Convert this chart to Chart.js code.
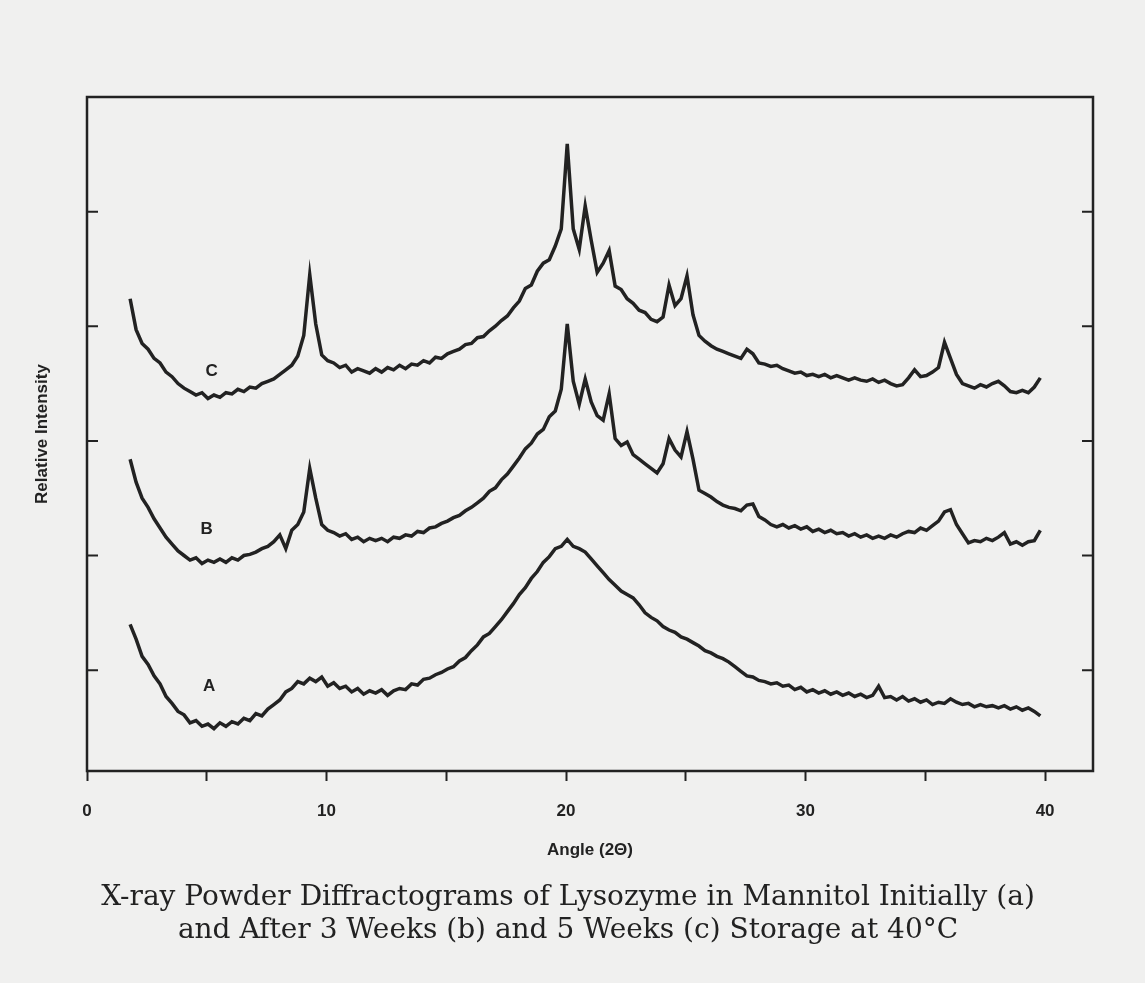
<!DOCTYPE html>
<html>
<head>
<meta charset="utf-8">
<script src="https://cdn.jsdelivr.net/npm/chart.js@4"></script>
<style>
    html, body { margin: 0; padding: 0; background: #f0f0ef; }
    #wrap { width: 1145px; height: 983px; position: relative; }
</style>
</head>
<body>
<div id="wrap"><canvas id="xrd"></canvas></div>
<script>
// scan grid, 2-theta in degrees (uniform 0.25 deg steps from 1.8 to 39.8)
const angles = Array.from({ length: 153 }, (_, i) => +(1.8 + 0.25 * i).toFixed(2));

// (a) initially
const seriesA = [
    1.40, 1.27, 1.12, 1.05, 0.95, 0.88, 0.77, 0.71, 0.64, 0.61,
    0.54, 0.56, 0.51, 0.53, 0.49, 0.54, 0.51, 0.55, 0.53, 0.58,
    0.56, 0.62, 0.60, 0.66, 0.70, 0.74, 0.81, 0.84, 0.90, 0.88,
    0.93, 0.90, 0.94, 0.86, 0.89, 0.84, 0.86, 0.81, 0.84, 0.79,
    0.82, 0.80, 0.83, 0.78, 0.82, 0.84, 0.83, 0.88, 0.87, 0.92,
    0.93, 0.96, 0.98, 1.01, 1.03, 1.08, 1.11, 1.17, 1.22, 1.29,
    1.32, 1.38, 1.44, 1.51, 1.58, 1.66, 1.72, 1.80, 1.86, 1.94,
    1.99, 2.06, 2.08, 2.14, 2.08, 2.06, 2.03, 1.97, 1.91, 1.85,
    1.79, 1.74, 1.69, 1.66, 1.63, 1.57, 1.50, 1.46, 1.43, 1.38,
    1.35, 1.33, 1.29, 1.27, 1.24, 1.21, 1.17, 1.15, 1.12, 1.10,
    1.07, 1.03, 0.99, 0.95, 0.94, 0.91, 0.90, 0.88, 0.89, 0.86,
    0.87, 0.83, 0.85, 0.81, 0.83, 0.80, 0.82, 0.79, 0.81, 0.78,
    0.80, 0.77, 0.79, 0.76, 0.78, 0.86, 0.76, 0.77, 0.74, 0.77,
    0.73, 0.75, 0.72, 0.74, 0.70, 0.72, 0.71, 0.75, 0.72, 0.70,
    0.71, 0.68, 0.70, 0.68, 0.69, 0.67, 0.69, 0.66, 0.68, 0.65,
    0.67, 0.64, 0.60
];

// (b) after 3 weeks
const seriesB = [
    2.84, 2.64, 2.50, 2.42, 2.32, 2.24, 2.16, 2.10, 2.04, 2.00,
    1.96, 1.98, 1.93, 1.96, 1.94, 1.97, 1.94, 1.98, 1.96, 2.00,
    2.01, 2.03, 2.06, 2.08, 2.12, 2.18, 2.06, 2.22, 2.27, 2.38,
    2.76, 2.50, 2.27, 2.22, 2.20, 2.17, 2.19, 2.14, 2.16, 2.12,
    2.15, 2.13, 2.15, 2.12, 2.16, 2.15, 2.18, 2.17, 2.21, 2.20,
    2.24, 2.25, 2.28, 2.30, 2.33, 2.35, 2.39, 2.42, 2.46, 2.50,
    2.56, 2.59, 2.66, 2.71, 2.78, 2.85, 2.93, 2.98, 3.06, 3.10,
    3.21, 3.26, 3.45, 4.02, 3.52, 3.32, 3.54, 3.34, 3.22, 3.18,
    3.41, 3.02, 2.96, 2.99, 2.88, 2.84, 2.80, 2.76, 2.72, 2.80,
    3.02, 2.92, 2.86, 3.08, 2.84, 2.57, 2.54, 2.51, 2.47, 2.44,
    2.42, 2.41, 2.39, 2.44, 2.45, 2.34, 2.31, 2.27, 2.25, 2.27,
    2.24, 2.26, 2.23, 2.25, 2.21, 2.23, 2.20, 2.22, 2.19, 2.20,
    2.17, 2.19, 2.16, 2.18, 2.15, 2.17, 2.15, 2.18, 2.16, 2.19,
    2.21, 2.20, 2.24, 2.22, 2.26, 2.30, 2.38, 2.40, 2.27, 2.19,
    2.11, 2.13, 2.12, 2.15, 2.13, 2.16, 2.20, 2.10, 2.12, 2.09,
    2.12, 2.13, 2.22
];

// (c) after 5 weeks
const seriesC = [
    4.24, 3.97, 3.85, 3.80, 3.72, 3.68, 3.60, 3.56, 3.50, 3.46,
    3.43, 3.40, 3.42, 3.37, 3.40, 3.38, 3.42, 3.41, 3.45, 3.43,
    3.47, 3.46, 3.50, 3.52, 3.54, 3.58, 3.62, 3.66, 3.74, 3.92,
    4.45, 4.02, 3.75, 3.70, 3.68, 3.64, 3.66, 3.60, 3.63, 3.61,
    3.59, 3.63, 3.60, 3.64, 3.62, 3.66, 3.63, 3.67, 3.66, 3.70,
    3.68, 3.73, 3.72, 3.76, 3.78, 3.80, 3.84, 3.85, 3.90, 3.91,
    3.96, 4.00, 4.05, 4.09, 4.16, 4.22, 4.33, 4.36, 4.48, 4.55,
    4.58, 4.70, 4.85, 5.59, 4.85, 4.67, 5.05, 4.75, 4.47, 4.55,
    4.66, 4.35, 4.32, 4.24, 4.20, 4.14, 4.12, 4.06, 4.04, 4.08,
    4.36, 4.18, 4.24, 4.44, 4.10, 3.92, 3.87, 3.83, 3.80, 3.78,
    3.76, 3.74, 3.72, 3.80, 3.76, 3.68, 3.67, 3.65, 3.66, 3.63,
    3.61, 3.59, 3.60, 3.57, 3.58, 3.56, 3.58, 3.55, 3.57, 3.55,
    3.53, 3.55, 3.53, 3.52, 3.54, 3.51, 3.53, 3.50, 3.48, 3.49,
    3.55, 3.62, 3.56, 3.57, 3.60, 3.64, 3.86, 3.72, 3.58, 3.50,
    3.48, 3.46, 3.49, 3.47, 3.50, 3.52, 3.48, 3.43, 3.42, 3.44,
    3.42, 3.47, 3.55
];

const curveNames = ['A', 'B', 'C'];
const xTicks = [0, 10, 20, 30, 40];
const yTickLevels = [1, 2, 3, 4, 5];
const captionLines = [
    'X-ray Powder Diffractograms of Lysozyme in Mannitol Initially (a)',
    'and After 3 Weeks (b) and 5 Weeks (c) Storage at 40\u00B0C'
];

const INK = '#222';
const toPoints = values => values.map((v, i) => ({ x: angles[i], y: v }));

// box round the plot, inward ticks on both sides, curve letters, caption
const framePlugin = {
    id: 'frame',
    afterDatasetsDraw(chart) {
        const { ctx, chartArea: a, scales } = chart;
        ctx.save();
        ctx.strokeStyle = INK;
        ctx.lineWidth = 2.5;
        ctx.strokeRect(a.left, a.top, a.right - a.left, a.bottom - a.top);

        ctx.lineWidth = 2;
        yTickLevels.forEach(v => {
            const y = scales.y.getPixelForValue(v);
            ctx.beginPath();
            ctx.moveTo(a.left, y);
            ctx.lineTo(a.left + 11, y);
            ctx.moveTo(a.right, y);
            ctx.lineTo(a.right - 11, y);
            ctx.stroke();
        });

        // letters sit under each trace near 5 degrees
        const labelX = [5.1, 5.0, 5.2];
        const labelY = [0.86, 2.23, 3.61];
        ctx.fillStyle = INK;
        ctx.font = 'bold 17px "Liberation Sans", Arial, sans-serif';
        ctx.textAlign = 'center';
        ctx.textBaseline = 'middle';
        curveNames.forEach((name, i) => {
            ctx.fillText(name, scales.x.getPixelForValue(labelX[i]), scales.y.getPixelForValue(labelY[i]));
        });

        // figure caption under the axis, a bit left of the plot centre like the printed page
        ctx.font = '28px "DejaVu Serif", serif';
        const capX = (a.left + a.right) / 2 - 22;
        const capY = a.bottom + 127;
        captionLines.forEach((line, i) => ctx.fillText(line, capX, capY + i * 33));
        ctx.restore();
    }
};

const traceStyle = {
    borderColor: INK,
    borderWidth: 3.5,
    pointRadius: 0,
    tension: 0,
    fill: false
};

new Chart(document.getElementById('xrd'), {
    type: 'line',
    data: {
        datasets: [
            { label: 'A', data: toPoints(seriesA), ...traceStyle },
            { label: 'B', data: toPoints(seriesB), ...traceStyle },
            { label: 'C', data: toPoints(seriesC), ...traceStyle }
        ]
    },
    options: {
        responsive: true,
        maintainAspectRatio: false,
        animation: false,
        layout: { padding: { top: 97, right: 52, bottom: 117, left: 0 } },
        plugins: {
            legend: { display: false },
            tooltip: { enabled: false },
            title: { display: false }
        },
        scales: {
            x: {
                type: 'linear',
                min: 0,
                max: 42,
                afterFit: scale => { scale.height = 95; },
                border: { display: false },
                grid: {
                    drawOnChartArea: false,
                    drawTicks: true,
                    tickLength: 10,
                    tickColor: INK,
                    tickWidth: 2
                },
                ticks: {
                    stepSize: 5,
                    includeBounds: false,
                    autoSkip: false,
                    maxRotation: 0,
                    padding: 20,
                    color: INK,
                    font: { family: '"Liberation Sans", Arial, sans-serif', size: 17, weight: 'bold' },
                    callback: v => (xTicks.includes(v) ? v : '')
                },
                title: {
                    display: true,
                    text: 'Angle (2\u0398)',
                    color: INK,
                    font: { family: '"Liberation Sans", Arial, sans-serif', size: 17, weight: 'bold' },
                    padding: { top: 0, bottom: 5 }
                }
            },
            y: {
                min: 0.12,
                max: 6.0,
                afterFit: scale => { scale.width = 87; },
                border: { display: false },
                grid: { display: false },
                ticks: { display: false },
                title: {
                    display: true,
                    text: 'Relative Intensity',
                    color: INK,
                    font: { family: '"Liberation Sans", Arial, sans-serif', size: 17, weight: 'bold' },
                    padding: { top: 32, bottom: 0 }
                }
            }
        }
    },
    plugins: [framePlugin]
});
</script>
</body>
</html>
